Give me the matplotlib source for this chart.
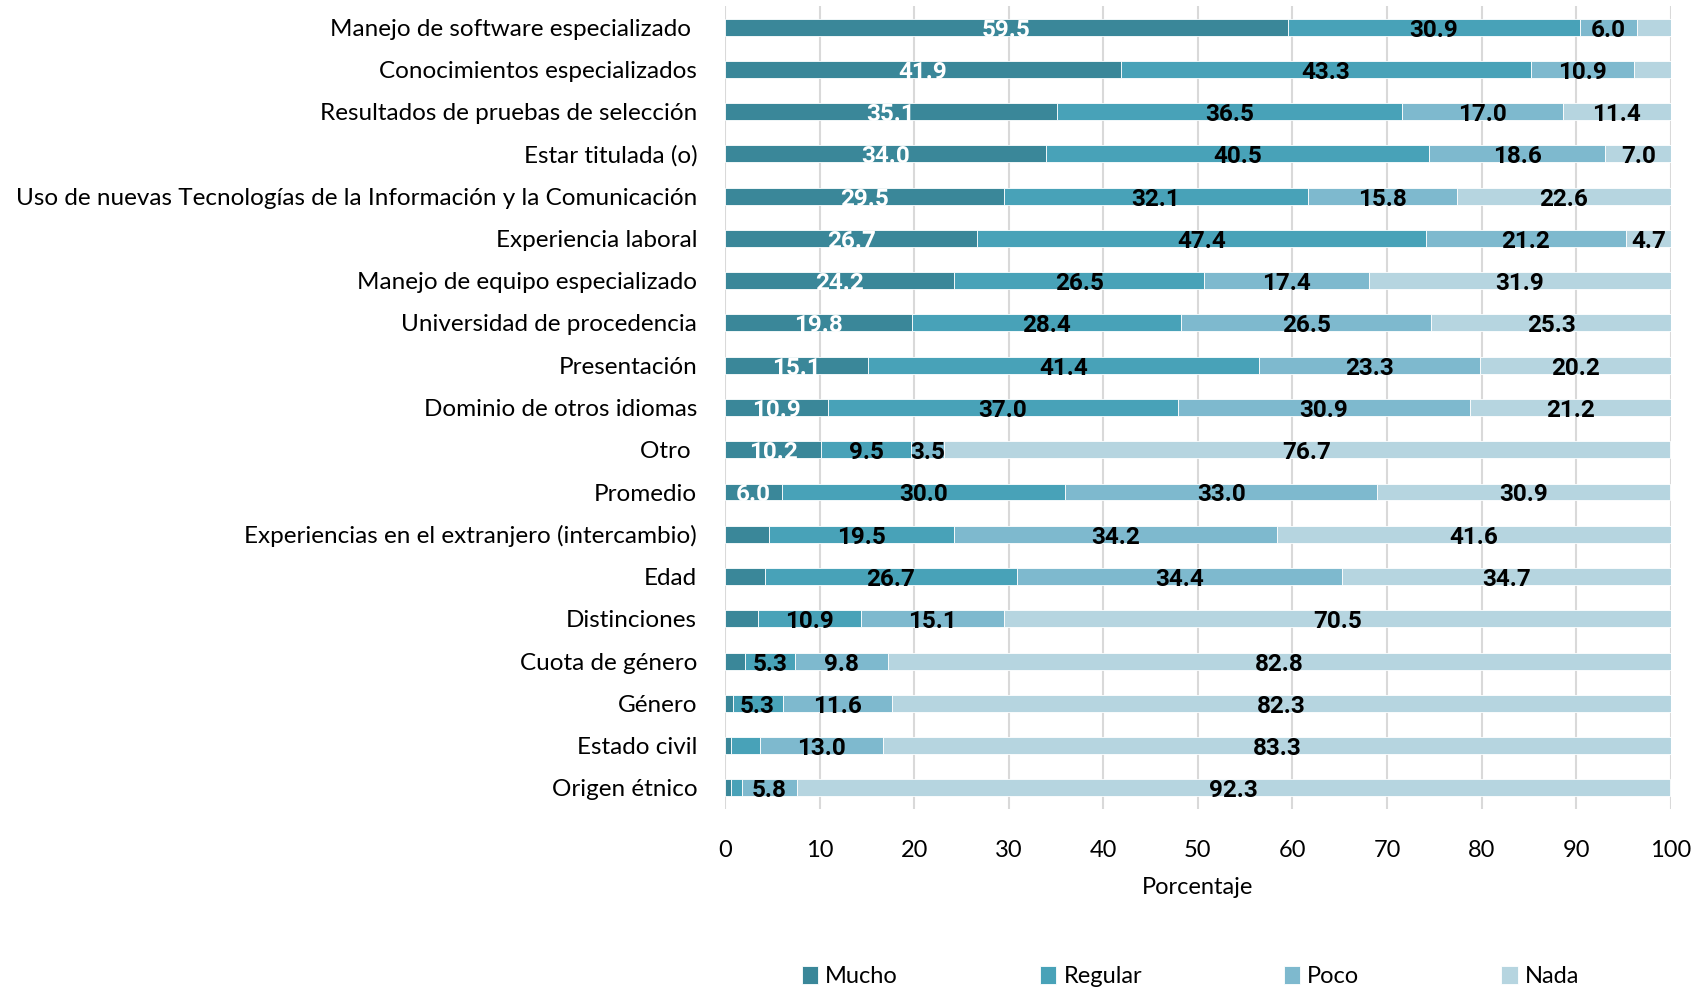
import numpy as np
import matplotlib
matplotlib.use("Agg")
import matplotlib.pyplot as plt

plt.rcParams['font.family'] = ['Lato', 'DejaVu Sans']

categorias = [
    "Manejo de software especializado ",
    "Conocimientos especializados",
    "Resultados de pruebas de selección",
    "Estar titulada (o)",
    "Uso de nuevas Tecnologías de la Información y la Comunicación",
    "Experiencia laboral",
    "Manejo de equipo especializado",
    "Universidad de procedencia",
    "Presentación",
    "Dominio de otros idiomas",
    "Otro ",
    "Promedio",
    "Experiencias en el extranjero (intercambio)",
    "Edad",
    "Distinciones",
    "Cuota de género",
    "Género",
    "Estado civil",
    "Origen étnico",
]

mucho = [59.5, 41.9, 35.1, 34.0, 29.5, 26.7, 24.2, 19.8, 15.1, 10.9, 10.2, 6.0, 4.7, 4.2, 3.5, 2.1, 0.8, 0.6, 0.6]
regular = [30.9, 43.3, 36.5, 40.5, 32.1, 47.4, 26.5, 28.4, 41.4, 37.0, 9.5, 30.0, 19.5, 26.7, 10.9, 5.3, 5.3, 3.1, 1.2]
poco = [6.0, 10.9, 17.0, 18.6, 15.8, 21.2, 17.4, 26.5, 23.3, 30.9, 3.5, 33.0, 34.2, 34.4, 15.1, 9.8, 11.6, 13.0, 5.8]
nada = [3.6, 3.9, 11.4, 7.0, 22.6, 4.7, 31.9, 25.3, 20.2, 21.2, 76.7, 30.9, 41.6, 34.7, 70.5, 82.8, 82.3, 83.3, 92.3]

series = ["Mucho", "Regular", "Poco", "Nada"]
colores = ["#3A8799", "#48A2B8", "#7EB9CE", "#B6D5E0"]

# etiquetas que en el original no aparecen: (serie, fila)
ocultas = {(0, 12), (0, 13), (0, 14), (0, 15), (0, 16), (0, 17), (0, 18),
           (1, 17), (1, 18), (3, 0), (3, 1)}

fig = plt.figure(figsize=(17.03, 9.89), dpi=100)
ax = fig.add_axes([0.4257, 0.182, 0.5553, 0.812])

y = np.arange(len(categorias))
valores = [mucho, regular, poco, nada]
izq = np.zeros(len(categorias))
for s, (nombre, vals, col) in enumerate(zip(series, valores, colores)):
    vals = np.array(vals)
    ax.barh(y, vals, left=izq, height=0.4, color=col, label=nombre, zorder=3,
            edgecolor='white', linewidth=0.6)
    for i, v in enumerate(vals):
        if (s, i) in ocultas:
            continue
        ax.text(izq[i] + v / 2, y[i] + 0.07, f"{v:.1f}", ha='center', va='center',
                fontsize=17.5, fontweight='bold', family=['Roboto', 'DejaVu Sans'],
                color='white' if s == 0 else 'black', zorder=4)
    izq += vals

ax.set_ylim(len(categorias) - 0.5, -0.5)
ax.set_xlim(0, 100)
ax.set_xticks(np.arange(0, 101, 10))
ax.set_yticks(y)
ax.set_yticklabels(categorias, fontsize=17.5)
ax.tick_params(axis='x', labelsize=17, length=0, pad=22)
ax.tick_params(axis='y', length=0, pad=20)
ax.grid(axis='x', color='#D9D9D9', linewidth=1.5, zorder=0)
for sp in ax.spines.values():
    sp.set_visible(False)
ax.set_xlabel("Porcentaje", fontsize=17, labelpad=12)

fig.legend(loc='center', bbox_to_anchor=(0.699, 0.013), ncol=4, frameon=False,
           fontsize=17, handlelength=0.7, handleheight=0.8, handletextpad=0.3,
           columnspacing=6.0)

fig.savefig("out.png", dpi=100)
